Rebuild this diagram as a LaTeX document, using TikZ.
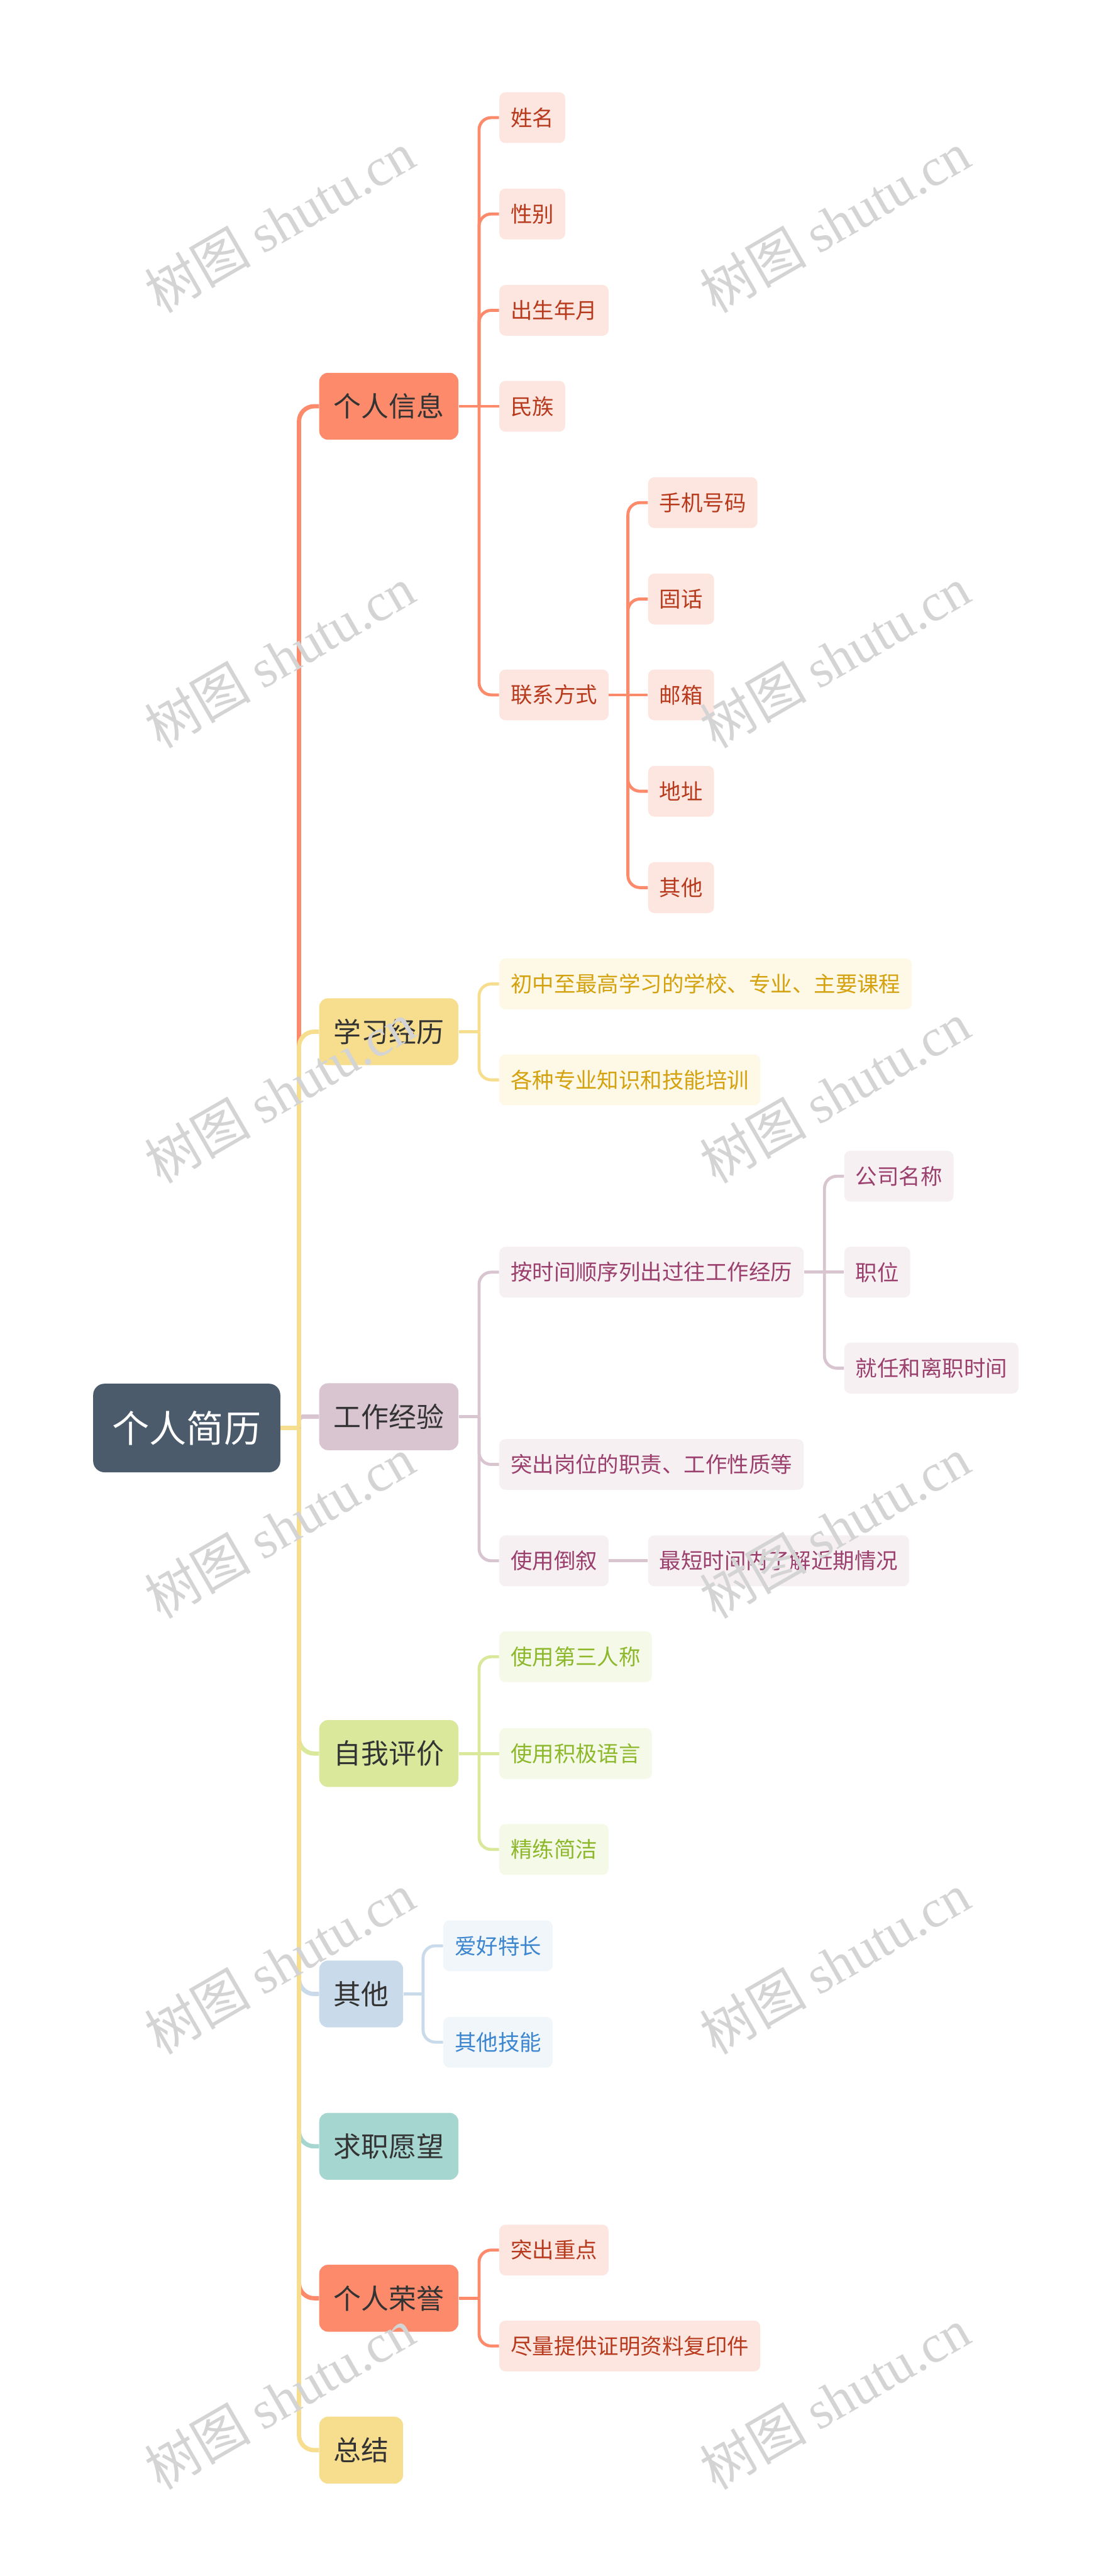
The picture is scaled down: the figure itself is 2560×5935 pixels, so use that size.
\documentclass[tikz,border=0pt]{standalone}
\usepackage{fontspec}
\newfontfamily\cjk{Noto Sans CJK SC}
\newfontfamily\wmserif{Liberation Serif}
\usetikzlibrary{backgrounds}
\definecolor{rootc}{HTML}{4B5B6B}
\definecolor{coral}{HTML}{FC8A6B}
\definecolor{coralL}{HTML}{FDE6E0}
\definecolor{coralT}{HTML}{B83A1D}
\definecolor{yel}{HTML}{F7DE8F}
\definecolor{yelL}{HTML}{FEF8E6}
\definecolor{yelT}{HTML}{D4A20F}
\definecolor{lav}{HTML}{D9C5D0}
\definecolor{lavL}{HTML}{F6F0F3}
\definecolor{lavT}{HTML}{9B3F6D}
\definecolor{grn}{HTML}{D9E89B}
\definecolor{grnL}{HTML}{F5F9E7}
\definecolor{grnT}{HTML}{8DB82B}
\definecolor{blu}{HTML}{C9DBEB}
\definecolor{bluL}{HTML}{F1F6FB}
\definecolor{bluT}{HTML}{3C86CF}
\definecolor{tealc}{HTML}{A6D6D0}
\definecolor{brtext}{HTML}{333333}
\definecolor{wmgray}{HTML}{D4D4D4}
\begin{document}
\begin{tikzpicture}[x=0.01cm,y=-0.01cm,
  box/.style={anchor=west, inner ysep=0pt, align=center},
  rootbox/.style={box, fill=rootc, text=white, font=\cjk\fontsize{24.4}{28}\selectfont,
    inner xsep=0.44cm, minimum height=2.04cm, rounded corners=0.26cm},
  br/.style={box, fill=#1, text=brtext, font=\cjk\fontsize{18.1}{22}\selectfont,
    inner xsep=0.33cm, minimum height=1.54cm, rounded corners=0.2cm},
  lf/.style 2 args={box, fill=#1, text=#2, font=\cjk\fontsize{14.2}{17}\selectfont,
    inner xsep=0.26cm, minimum height=1.17cm, rounded corners=0.14cm},
  lone/.style={line width=2.83pt, draw=#1, rounded corners=0.35cm},
  ltwo/.style={line width=1.98pt, draw=#1, rounded corners=0.28cm},
  wm/.style={text=wmgray, rotate=30, inner sep=0pt}
]
\useasboundingbox (0,0) rectangle (2560,5935);

% root
\node[rootbox] (root) at (214,3290) {个人简历};

% branches
\node[br=coral] (b1) at (735,936) {个人信息};
\node[br=yel] (b2) at (735,2377) {学习经历};
\node[br=lav] (b3) at (735,3264) {工作经验};
\node[br=grn] (b4) at (735,4040) {自我评价};
\node[br=blu] (b5) at (735,4594) {其他};
\node[br=tealc] (b6) at (735,4945) {求职愿望};
\node[br=coral] (b7) at (735,5295) {个人荣誉};
\node[br=yel] (b8) at (735,5645) {总结};

% 个人信息
\node[lf={coralL}{coralT}] (a1) at (1150,271) {姓名};
\node[lf={coralL}{coralT}] (a2) at (1150,493) {性别};
\node[lf={coralL}{coralT}] (a3) at (1150,715) {出生年月};
\node[lf={coralL}{coralT}] (a4) at (1150,936) {民族};
\node[lf={coralL}{coralT}] (a5) at (1150,1601) {联系方式};
\node[lf={coralL}{coralT}] (c1) at (1493,1158) {手机号码};
\node[lf={coralL}{coralT}] (c2) at (1493,1380) {固话};
\node[lf={coralL}{coralT}] (c3) at (1493,1601) {邮箱};
\node[lf={coralL}{coralT}] (c4) at (1493,1823) {地址};
\node[lf={coralL}{coralT}] (c5) at (1493,2045) {其他};

% 学习经历
\node[lf={yelL}{yelT}] (s1) at (1150,2267) {初中至最高学习的学校、专业、主要课程};
\node[lf={yelL}{yelT}] (s2) at (1150,2488) {各种专业知识和技能培训};

% 工作经验
\node[lf={lavL}{lavT}] (w1) at (1150,2931) {按时间顺序列出过往工作经历};
\node[lf={lavL}{lavT}] (w2) at (1150,3374) {突出岗位的职责、工作性质等};
\node[lf={lavL}{lavT}] (w3) at (1150,3596) {使用倒叙};
\node[lf={lavL}{lavT}] (w11) at (1945,2710) {公司名称};
\node[lf={lavL}{lavT}] (w12) at (1945,2931) {职位};
\node[lf={lavL}{lavT}] (w13) at (1945,3152) {就任和离职时间};
\node[lf={lavL}{lavT}] (w31) at (1493,3596) {最短时间内了解近期情况};

% 自我评价
\node[lf={grnL}{grnT}] (z1) at (1150,3817) {使用第三人称};
\node[lf={grnL}{grnT}] (z2) at (1150,4040) {使用积极语言};
\node[lf={grnL}{grnT}] (z3) at (1150,4261) {精练简洁};

% 其他
\node[lf={bluL}{bluT}] (q1) at (1021,4483) {爱好特长};
\node[lf={bluL}{bluT}] (q2) at (1021,4705) {其他技能};

% 个人荣誉
\node[lf={coralL}{coralT}] (h1) at (1150,5184) {突出重点};
\node[lf={coralL}{coralT}] (h2) at (1150,5405) {尽量提供证明资料复印件};

% junction coordinates
\coordinate (J) at (689,3290);
\coordinate (K1) at (1104,936);
\coordinate (K1c) at (1447,1601);
\coordinate (K2) at (1104,2377);
\coordinate (K3) at (1104,3264);
\coordinate (K3a) at (1900,2931);
\coordinate (K4) at (1104,4040);
\coordinate (K5) at (975,4594);
\coordinate (K7) at (1104,5295);

\begin{scope}[on background layer]
  % level 1
  \draw[lone=coral] (J) |- (b1.west);
  \draw[lone=lav, rounded corners=0.08cm] (J) |- (b3.west);
  \draw[lone=yel] (J) |- (b2.west);
  \draw[lone=grn] (J) |- (b4.west);
  \draw[lone=blu] (J) |- (b5.west);
  \draw[lone=tealc] (J) |- (b6.west);
  \draw[lone=coral] (J) |- (b7.west);
  \draw[lone=yel] (J) |- (b8.west);
  \draw[lone=yel] (root.east) -- (J);
  % 个人信息
  \draw[ltwo=coral] (b1.east) -- (a4.west);
  \draw[ltwo=coral] (K1) |- (a1.west);
  \draw[ltwo=coral] (K1) |- (a2.west);
  \draw[ltwo=coral] (K1) |- (a3.west);
  \draw[ltwo=coral] (K1) |- (a5.west);
  \draw[ltwo=coral] (a5.east) -- (c3.west);
  \draw[ltwo=coral] (K1c) |- (c1.west);
  \draw[ltwo=coral] (K1c) |- (c2.west);
  \draw[ltwo=coral] (K1c) |- (c4.west);
  \draw[ltwo=coral] (K1c) |- (c5.west);
  % 学习经历
  \draw[ltwo=yel] (b2.east) -- (K2);
  \draw[ltwo=yel] (K2) |- (s1.west);
  \draw[ltwo=yel] (K2) |- (s2.west);
  % 工作经验
  \draw[ltwo=lav] (b3.east) -- (K3);
  \draw[ltwo=lav] (K3) |- (w1.west);
  \draw[ltwo=lav] (K3) |- (w2.west);
  \draw[ltwo=lav] (K3) |- (w3.west);
  \draw[ltwo=lav] (w1.east) -- (w12.west);
  \draw[ltwo=lav] (K3a) |- (w11.west);
  \draw[ltwo=lav] (K3a) |- (w13.west);
  \draw[ltwo=lav] (w3.east) -- (w31.west);
  % 自我评价
  \draw[ltwo=grn] (b4.east) -- (z2.west);
  \draw[ltwo=grn] (K4) |- (z1.west);
  \draw[ltwo=grn] (K4) |- (z3.west);
  % 其他
  \draw[ltwo=blu] (b5.east) -- (K5);
  \draw[ltwo=blu] (K5) |- (q1.west);
  \draw[ltwo=blu] (K5) |- (q2.west);
  % 个人荣誉
  \draw[ltwo=coral] (b7.east) -- (K7);
  \draw[ltwo=coral] (K7) |- (h1.west);
  \draw[ltwo=coral] (K7) |- (h2.west);
\end{scope}

% watermarks
\foreach \r in {0,...,5}{
  \node[wm] (wml\r) at (644,{511+1003*\r}) {\fontsize{35}{40}\selectfont\cjk 树图 \wmserif shutu.cn};
  \node[wm] (wmr\r) at (1924,{511+1003*\r}) {\fontsize{35}{40}\selectfont\cjk 树图 \wmserif shutu.cn};
}
\end{tikzpicture}
\end{document}
